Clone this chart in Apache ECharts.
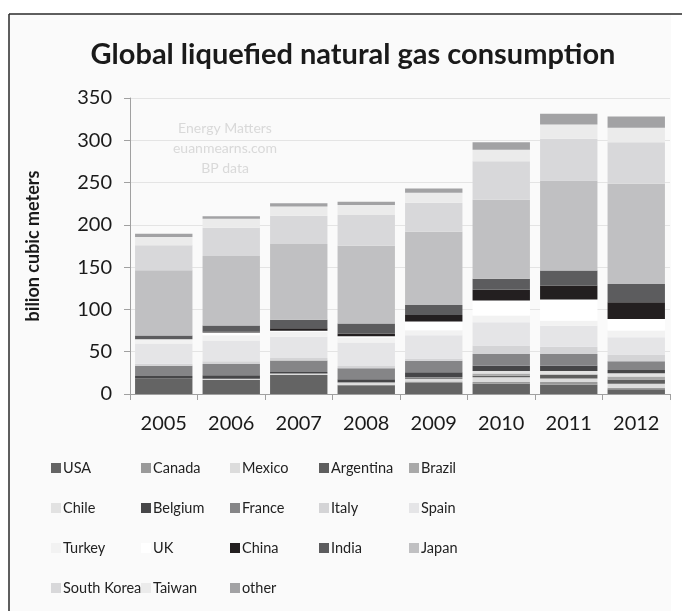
<!DOCTYPE html>
<html>
<head>
<meta charset="utf-8">
<script src="https://cdn.jsdelivr.net/npm/echarts@6/dist/echarts.min.js"></script>
<style>
  html, body { margin: 0; padding: 0; background: #fff; }
  #chart { width: 682px; height: 611px; }
</style>
</head>
<body>
<div id="chart"></div>
<script>
// LNG imports by country, billion cubic metres
const years = ['2005', '2006', '2007', '2008', '2009', '2010', '2011', '2012'];
const yTicks = [0, 50, 100, 150, 200, 250, 300, 350];

const countries = ['USA', 'Canada', 'Mexico', 'Argentina', 'Brazil', 'Chile', 'Belgium', 'France',
  'Italy', 'Spain', 'Turkey', 'UK', 'China', 'India', 'Japan', 'South Korea', 'Taiwan', 'other'];

const USA        = [18.5, 16.9, 22.5, 10.2, 12.9, 12.1, 11.0, 5.5];
const Canada     = [0, 0, 0, 0.6, 1.8, 2.0, 3.3, 1.8];
const Mexico     = [0, 1.0, 1.6, 2.8, 3.2, 5.7, 4.0, 4.8];
const Argentina  = [0, 0, 0, 0.4, 0.9, 1.7, 4.4, 5.1];
const Brazil     = [0, 0, 0, 0, 0.3, 2.8, 0.8, 3.5];
const Chile      = [0, 0, 0, 0, 0.3, 2.9, 3.7, 3.7];
const Belgium    = [2.8, 4.3, 2.0, 3.4, 6.3, 6.3, 6.2, 4.0];
const France     = [12.2, 13.4, 13.4, 13.0, 13.5, 13.9, 13.8, 10.3];
const Italy      = [2.4, 3.2, 3.2, 2.8, 2.8, 9.9, 8.7, 7.9];
const Spain      = [23.7, 24.5, 25.0, 27.6, 27.6, 27.6, 24.9, 20.5];
const Turkey     = [4.7, 6.3, 5.9, 5.9, 5.9, 7.9, 5.9, 7.9];
const UK         = [0.5, 3.2, 1.2, 1.6, 10.3, 17.8, 24.9, 13.8];
const China      = [0, 0.8, 2.8, 3.2, 7.5, 12.6, 16.6, 19.7];
const India      = [4.5, 7.5, 10.3, 11.8, 11.8, 13.0, 17.8, 21.7];
const Japan      = [76.9, 82.0, 89.5, 92.0, 86.8, 93.5, 106.5, 118.3];
const SouthKorea = [29.6, 33.5, 33.5, 36.3, 34.3, 45.4, 49.3, 49.3];
const Taiwan     = [9.9, 10.7, 10.7, 11.8, 11.8, 13.8, 17.0, 17.0];
const other      = [3.9, 2.8, 3.9, 3.9, 5.1, 8.7, 12.6, 13.4];

const values = [USA, Canada, Mexico, Argentina, Brazil, Chile, Belgium, France,
  Italy, Spain, Turkey, UK, China, India, Japan, SouthKorea, Taiwan, other];

const shades = ['#646464', '#9a9a9a', '#dcdcdc', '#5e5e5e', '#a9a9a9', '#e2e2e2', '#464648', '#858587',
  '#d4d4d6', '#e5e5e7', '#f2f2f2', '#ffffff', '#231f20', '#5c5c5e', '#c0c0c2', '#d8d8da', '#ebebeb', '#a2a2a4'];

const font = 'Lato, "Open Sans", sans-serif';

const series = countries.map((name, i) => ({
  name: name,
  type: 'bar',
  stack: 'lng',
  barCategoryGap: '15%',
  data: values[i],
  itemStyle: { color: shades[i] },
  emphasis: { disabled: true }
}));

// legend laid out column by column, five columns of up to four rows
const legendCols = [
  { left: 46,  names: ['USA', 'Chile', 'Turkey', 'South Korea'] },
  { left: 136, names: ['Canada', 'Belgium', 'UK', 'Taiwan'] },
  { left: 225, names: ['Mexico', 'France', 'China', 'other'] },
  { left: 314, names: ['Argentina', 'Italy', 'India'] },
  { left: 404, names: ['Brazil', 'Spain', 'Japan'] }
];
const legends = legendCols.map(c => ({
  data: c.names,
  orient: 'vertical',
  left: c.left,
  top: 452,
  itemWidth: 10,
  itemHeight: 10,
  itemGap: 18,
  icon: 'rect',
  selectedMode: false,
  textStyle: { fontFamily: font, fontSize: 14.5, color: '#222', lineHeight: 22, padding: [0, 0, 0, -3] }
}));

const chart = echarts.init(document.getElementById('chart'), null, { renderer: 'canvas' });
chart.setOption({
  backgroundColor: '#ffffff',
  animation: false,
  graphic: [
    { type: 'rect', z: -10, shape: { x: 9, y: 14, width: 662, height: 600 },
      style: { fill: '#fafafa', stroke: null, lineWidth: 0 } },
    { type: 'line', z: -9, shape: { x1: 9, y1: 14, x2: 9, y2: 611 },
      style: { stroke: '#2a2a2a', lineWidth: 1.5 } },
    { type: 'line', z: -9, shape: { x1: 9, y1: 14, x2: 682, y2: 14 },
      style: { stroke: '#2a2a2a', lineWidth: 1.5 } },
    { type: 'text', x: 353, y: 40, z: 5,
      style: { text: 'Global liquefied natural gas consumption', fill: '#1a1a1a', align: 'center',
        font: 'bold 29px ' + font } },
    { type: 'text', x: 225, y: 118, z: 5,
      style: { text: 'Energy Matters\neuanmearns.com\nBP data', fill: '#d9d9d9', align: 'center',
        lineHeight: 20, font: '14px ' + font } }
  ],
  grid: { left: 130, right: 12, top: 98, bottom: 217, containLabel: false },
  legend: legends,
  xAxis: {
    type: 'category',
    data: years,
    axisLine: { lineStyle: { color: '#a0a0a0' } },
    axisTick: { show: true, alignWithLabel: false, length: 6, lineStyle: { color: '#a0a0a0' } },
    axisLabel: { fontFamily: font, fontSize: 20, color: '#1a1a1a', margin: 20 }
  },
  yAxis: {
    type: 'value',
    min: yTicks[0],
    max: yTicks[yTicks.length - 1],
    interval: 50,
    name: 'bilion cubic meters',
    nameLocation: 'middle',
    nameGap: 88,
    nameTextStyle: { fontFamily: font, fontSize: 18, fontWeight: 'bold', color: '#1a1a1a' },
    axisLine: { show: true, lineStyle: { color: '#a0a0a0' } },
    axisTick: { show: true, length: 6, lineStyle: { color: '#a0a0a0' } },
    axisLabel: { fontFamily: font, fontSize: 20, color: '#1a1a1a', margin: 18 },
    splitLine: { lineStyle: { color: '#e4e4e4' } }
  },
  series: series
});
</script>
</body>
</html>
